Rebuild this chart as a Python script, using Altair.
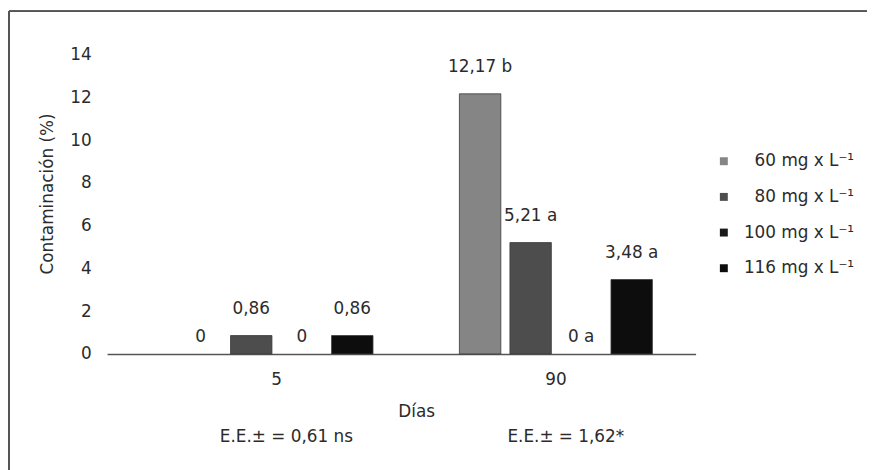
import altair as alt
import pandas as pd

days = ["5", "5", "5", "5", "90", "90", "90", "90"]
conc = ["60 mg x L\u207b\u00b9", "80 mg x L\u207b\u00b9", "100 mg x L\u207b\u00b9", "116 mg x L\u207b\u00b9"] * 2
values = [0, 0.86, 0, 0.86, 12.17, 5.21, 0, 3.48]
labels = ["0", "0,86", "0", "0,86", "12,17 b", "5,21 a", "0 a", "3,48 a"]
conc_order = conc[:4]
colors = ["#858585", "#4d4d4d", "#1a1a1a", "#0d0d0d"]
ee_days = ["5", "90"]
ee_text = ["E.E.\u00b1 = 0,61 ns", "E.E.\u00b1 = 1,62*"]

df = pd.DataFrame({"Día": days, "Conc": conc, "Valor": values, "Etiqueta": labels})
ee = pd.DataFrame({"Día": ee_days, "Texto": ee_text})

FONT = "DejaVu Sans"
FS = 17
TXT = "#2b2b2b"

xscale = alt.Scale(domain=["5", "90"], paddingInner=0, paddingOuter=0.0532, align=1)
xoscale = alt.Scale(domain=conc_order, paddingInner=0.18, paddingOuter=0.855)

xenc = alt.X("Día:N", scale=xscale,
             axis=alt.Axis(title="Días", labelAngle=0, tickSize=0, labelPadding=18,
                           titlePadding=16, titleX=312, domainColor="#555555",
                           domainWidth=1.5))
xoff = alt.XOffset("Conc:N", scale=xoscale)
yenc = alt.Y("Valor:Q", scale=alt.Scale(domain=[0, 14]),
             axis=alt.Axis(title="Contaminación (%)", values=list(range(0, 15, 2)),
                           grid=False, domain=False, ticks=False, labelPadding=16,
                           titlePadding=13, titleY=140))

bars = alt.Chart(df).transform_filter("datum.Valor > 0").mark_bar(
    stroke="#3a3a3a", strokeWidth=0.8
).encode(
    x=xenc, xOffset=xoff, y=yenc,
    color=alt.Color("Conc:N",
                    scale=alt.Scale(domain=conc_order, range=colors),
                    legend=alt.Legend(title=None, orient="none", legendX=614, legendY=99,
                                      symbolType="square", symbolSize=64,
                                      symbolStrokeWidth=0, labelFontSize=FS,
                                      labelFont=FONT, labelColor=TXT, labelAlign="right",
                                      rowPadding=18, labelOffset=123, labelLimit=300)),
)

lab_nz = alt.Chart(df).transform_filter("datum.Valor > 0").mark_text(
    fontSize=FS, font=FONT, color=TXT, baseline="middle", dy=-27
).encode(x=alt.X("Día:N", scale=xscale), xOffset=alt.XOffset("Conc:N", scale=xoscale),
         y="Valor:Q", text="Etiqueta:N")

lab_z = alt.Chart(df).transform_filter("datum.Valor == 0").mark_text(
    fontSize=FS, font=FONT, color=TXT, baseline="middle", dy=-17
).encode(x=alt.X("Día:N", scale=xscale), xOffset=alt.XOffset("Conc:N", scale=xoscale),
         y="Valor:Q", text="Etiqueta:N")

ee_layer = alt.Chart(ee).mark_text(
    fontSize=FS, font=FONT, color=TXT, baseline="middle", dx=10
).encode(x=alt.X("Día:N", scale=xscale), y=alt.value(386), text="Texto:N")

frame_top = alt.Chart(ee).mark_rule(color="#555555", strokeWidth=2).encode(
    x=alt.value(-99), x2=alt.value(800), y=alt.value(-44))
frame_left = alt.Chart(ee).mark_rule(color="#555555", strokeWidth=2).encode(
    x=alt.value(-99), y=alt.value(-44), y2=alt.value(420))

chart = alt.layer(bars, lab_nz, lab_z, ee_layer, frame_top, frame_left).properties(
    width=594, height=302,
    background="white",
    autosize=alt.AutoSizeParams(type="none"),
    padding={"left": 100, "top": 45, "right": 173, "bottom": 115},
).configure_view(stroke=None).configure_axis(
    labelFont=FONT, titleFont=FONT, labelFontSize=FS, titleFontSize=FS,
    labelColor=TXT, titleColor=TXT, titleFontWeight="normal"
)

chart.save("out.html", embed_options={"renderer": "svg", "actions": False})
